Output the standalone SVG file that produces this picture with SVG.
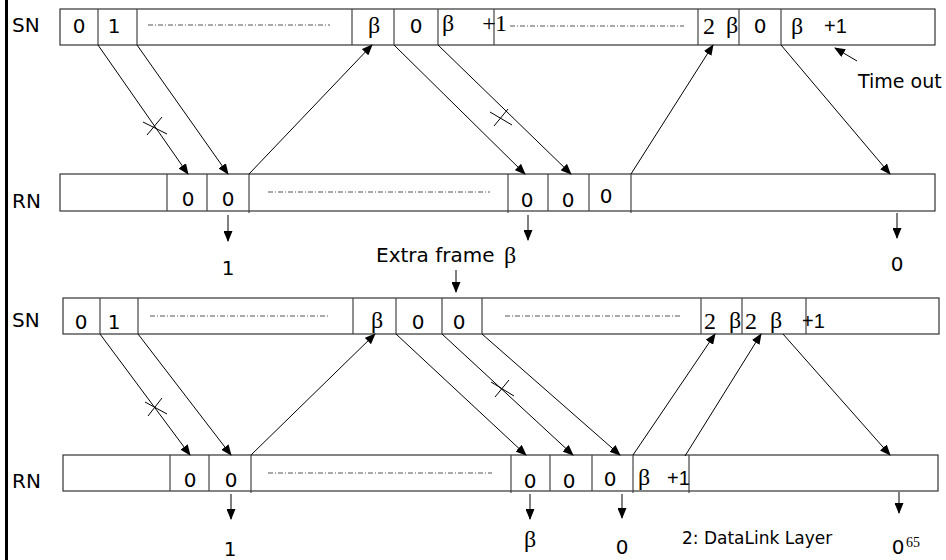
<svg xmlns="http://www.w3.org/2000/svg" width="946" height="560" viewBox="0 0 946 560">
  <style>
    .bar { fill: #fff; stroke: #333; stroke-width: 1.2; }
    .div { stroke: #444; stroke-width: 1.2; }
    .dots { stroke: #555; stroke-width: 1; stroke-dasharray: 5 2 1 2; }
    .lbl { font-family: "DejaVu Sans", "Liberation Sans", sans-serif; font-size: 20px; fill: #000; }
    .num { font-family: "DejaVu Sans", "Liberation Sans", sans-serif; font-size: 20px; fill: #000; text-anchor: middle; }
    .gr { font-family: "Liberation Serif", "DejaVu Serif", serif; font-size: 24px; fill: #000; text-anchor: middle; }
    .pl { font-family: "Liberation Sans", "DejaVu Sans", sans-serif; font-size: 20px; fill: #000; }
    .arr { stroke: #000; stroke-width: 1; fill: none; marker-end: url(#head); }
    .ln { stroke: #000; stroke-width: 1; fill: none; }
  </style>
  <defs>
    <marker id="head" markerUnits="userSpaceOnUse" markerWidth="11" markerHeight="9" refX="10" refY="4.5" orient="auto">
      <path d="M0,0 L11,4.5 L0,9 z" fill="#000"/>
    </marker>
  </defs>

  <rect x="0" y="0" width="946" height="560" fill="#fff"/>
  <!-- left edge rule -->
  <rect x="5" y="0" width="3" height="560" fill="#000"/>

  <!-- sender sequence bar, first case -->
  <g id="sn1">
    <rect class="bar" x="60" y="9" width="875" height="36"/>
    <line class="div" x1="98" y1="9" x2="98" y2="45"/>
    <line class="div" x1="137" y1="9" x2="137" y2="45"/>
    <line class="div" x1="352" y1="9" x2="352" y2="45"/>
    <line class="div" x1="394" y1="9" x2="394" y2="45"/>
    <line class="div" x1="438" y1="9" x2="438" y2="45"/>
    <line class="div" x1="494" y1="9" x2="494" y2="45"/>
    <line class="div" x1="698" y1="9" x2="698" y2="45"/>
    <line class="div" x1="739" y1="9" x2="739" y2="45"/>
    <line class="div" x1="781" y1="9" x2="781" y2="45"/>
    <line class="dots" x1="148" y1="25" x2="330" y2="25"/>
    <line class="dots" x1="510" y1="26" x2="684" y2="26"/>
    <text class="lbl" x="12" y="32">SN</text>
    <text class="num" x="79" y="33">0</text>
    <text class="num" x="114" y="33">1</text>
    <text class="gr" x="374" y="33">β</text>
    <text class="num" x="416" y="33">0</text>
    <text class="gr" x="448" y="31">β</text>
    <text class="gr" x="489" y="31">+</text>
    <text class="gr" x="501" y="31">1</text>
    <text class="gr" x="709" y="34">2</text>
    <text class="gr" x="732" y="33">β</text>
    <text class="num" x="760" y="33">0</text>
    <text class="gr" x="797" y="34">β</text>
    <text class="pl" x="824" y="33">+1</text>
  </g>

  <!-- receiver bar, first case -->
  <g id="rn1">
    <rect class="bar" x="60" y="174" width="875" height="37"/>
    <line class="div" x1="167" y1="174" x2="167" y2="211"/>
    <line class="div" x1="207" y1="174" x2="207" y2="211"/>
    <line class="div" x1="249" y1="174" x2="249" y2="213"/>
    <line class="div" x1="508" y1="174" x2="508" y2="213"/>
    <line class="div" x1="548" y1="174" x2="548" y2="211"/>
    <line class="div" x1="589" y1="174" x2="589" y2="211"/>
    <line class="div" x1="631" y1="174" x2="631" y2="213"/>
    <line class="dots" x1="268" y1="192" x2="490" y2="192"/>
    <text class="lbl" x="12" y="208">RN</text>
    <text class="num" x="188" y="206">0</text>
    <text class="num" x="228" y="206">0</text>
    <text class="num" x="527" y="207">0</text>
    <text class="num" x="568" y="207">0</text>
    <text class="num" x="606" y="203">0</text>
  </g>

  <!-- sender sequence bar, second case -->
  <g id="sn2">
    <rect class="bar" x="63" y="298" width="876" height="36"/>
    <line class="div" x1="100" y1="298" x2="100" y2="334"/>
    <line class="div" x1="138" y1="298" x2="138" y2="334"/>
    <line class="div" x1="353" y1="298" x2="353" y2="334"/>
    <line class="div" x1="396" y1="298" x2="396" y2="334"/>
    <line class="div" x1="442" y1="298" x2="442" y2="334"/>
    <line class="div" x1="482" y1="298" x2="482" y2="334"/>
    <line class="div" x1="701" y1="298" x2="701" y2="334"/>
    <line class="div" x1="742" y1="298" x2="742" y2="334"/>
    <line class="div" x1="806" y1="298" x2="806" y2="334"/>
    <line class="dots" x1="150" y1="316" x2="330" y2="316"/>
    <line class="dots" x1="505" y1="316" x2="680" y2="316"/>
    <text class="lbl" x="12" y="327">SN</text>
    <text class="num" x="81" y="329">0</text>
    <text class="num" x="114" y="329">1</text>
    <text class="gr" x="377" y="328">β</text>
    <text class="num" x="418" y="329">0</text>
    <text class="num" x="459" y="329">0</text>
    <text class="gr" x="710" y="329">2</text>
    <text class="gr" x="735" y="328">β</text>
    <text class="gr" x="751" y="329">2</text>
    <text class="gr" x="776" y="328">β</text>
    <text class="pl" x="802" y="328">+1</text>
  </g>

  <!-- receiver bar, second case -->
  <g id="rn2">
    <rect class="bar" x="63" y="455" width="875" height="36"/>
    <line class="div" x1="170" y1="455" x2="170" y2="491"/>
    <line class="div" x1="209" y1="455" x2="209" y2="491"/>
    <line class="div" x1="251" y1="455" x2="251" y2="493"/>
    <line class="div" x1="511" y1="455" x2="511" y2="493"/>
    <line class="div" x1="550" y1="455" x2="550" y2="491"/>
    <line class="div" x1="592" y1="455" x2="592" y2="491"/>
    <line class="div" x1="633" y1="455" x2="633" y2="493"/>
    <line class="div" x1="689" y1="455" x2="689" y2="493"/>
    <line class="dots" x1="268" y1="473" x2="492" y2="473"/>
    <text class="lbl" x="12" y="488">RN</text>
    <text class="num" x="190" y="487">0</text>
    <text class="num" x="231" y="487">0</text>
    <text class="num" x="530" y="488">0</text>
    <text class="num" x="569" y="488">0</text>
    <text class="num" x="610" y="486">0</text>
    <text class="gr" x="644" y="485">β</text>
    <text class="pl" x="667" y="485">+1</text>
  </g>

  <!-- delivered outputs and notes -->
  <g id="notes">
    <text class="num" x="228" y="275">1</text>
    <text class="lbl" x="376" y="262">Extra frame</text>
    <text class="gr" x="510" y="263">β</text>
    <text class="num" x="897" y="271">0</text>
    <text class="lbl" x="858" y="88" style="font-size:19px">Time out</text>
    <text class="num" x="230" y="556">1</text>
    <text class="gr" x="530" y="547">β</text>
    <text class="num" x="622" y="554">0</text>
    <text class="lbl" x="682" y="544" style="font-size:17px">2: DataLink Layer</text>
    <text class="num" x="898" y="554">0</text>
    <text class="gr" x="913" y="547" style="font-size:14px">65</text>
  </g>

  <!-- connectors -->
  <g id="connectors">
    <!-- first case -->
    <line class="arr" x1="98" y1="45" x2="188" y2="174"/>
    <line class="arr" x1="137" y1="45" x2="228" y2="174"/>
    <line class="arr" x1="249" y1="174" x2="372" y2="45"/>
    <line class="arr" x1="394" y1="45" x2="525" y2="174"/>
    <line class="arr" x1="438" y1="45" x2="571" y2="174"/>
    <line class="arr" x1="631" y1="174" x2="713" y2="45"/>
    <line class="arr" x1="781" y1="45" x2="890" y2="174"/>
    <line class="arr" x1="857" y1="61" x2="835" y2="48"/>
    <line class="ln" x1="143" y1="122" x2="167" y2="134"/>
    <line class="ln" x1="147" y1="135" x2="162" y2="117"/>
    <line class="ln" x1="490" y1="112" x2="512" y2="125"/>
    <line class="ln" x1="494" y1="126" x2="508" y2="109"/>
    <line class="arr" x1="228" y1="215" x2="228" y2="241"/>
    <line class="arr" x1="528" y1="215" x2="528" y2="240"/>
    <line class="arr" x1="897" y1="213" x2="897" y2="238"/>
    <line class="arr" x1="456" y1="270" x2="456" y2="292"/>
    <!-- second case -->
    <line class="arr" x1="100" y1="334" x2="190" y2="455"/>
    <line class="arr" x1="138" y1="334" x2="231" y2="455"/>
    <line class="arr" x1="251" y1="455" x2="375" y2="334"/>
    <line class="arr" x1="396" y1="334" x2="526" y2="455"/>
    <line class="arr" x1="442" y1="334" x2="573" y2="455"/>
    <line class="arr" x1="482" y1="334" x2="620" y2="455"/>
    <line class="arr" x1="633" y1="455" x2="715" y2="334"/>
    <line class="arr" x1="685" y1="456" x2="761" y2="334"/>
    <line class="arr" x1="783" y1="334" x2="890" y2="455"/>
    <line class="ln" x1="145" y1="402" x2="167" y2="414"/>
    <line class="ln" x1="148" y1="416" x2="162" y2="398"/>
    <line class="ln" x1="491" y1="382" x2="514" y2="396"/>
    <line class="ln" x1="495" y1="397" x2="509" y2="380"/>
    <line class="arr" x1="231" y1="494" x2="231" y2="519"/>
    <line class="arr" x1="530" y1="494" x2="530" y2="519"/>
    <line class="arr" x1="622" y1="494" x2="622" y2="518"/>
    <line class="arr" x1="899" y1="492" x2="899" y2="513"/>
  </g>
</svg>
